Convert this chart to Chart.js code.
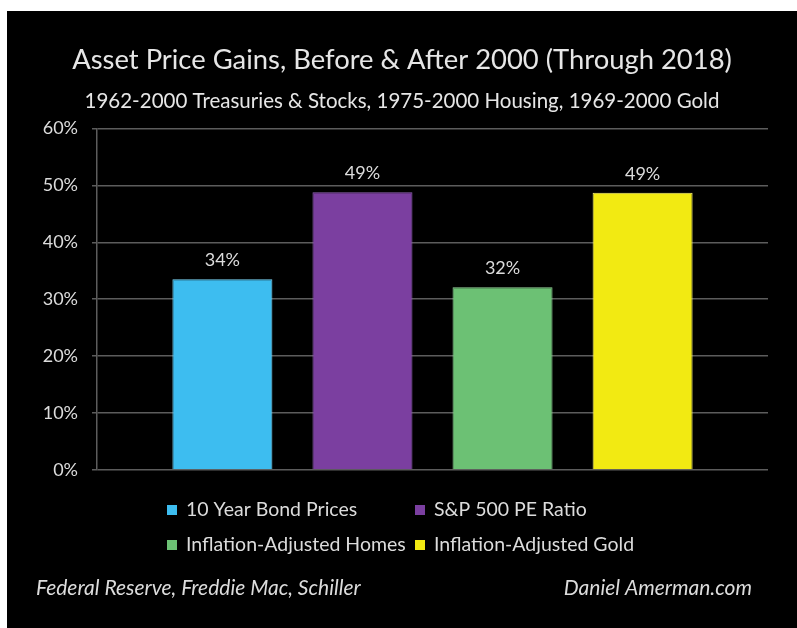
<!DOCTYPE html>
<html>
<head>
<meta charset="utf-8">
<script src="https://cdn.jsdelivr.net/npm/chart.js@4.4.1/dist/chart.umd.min.js"></script>
<style>
  html, body { margin: 0; padding: 0; background: #fff; }
  #panel { position: absolute; left: 7px; top: 11px; width: 790px; height: 617px; background: #000; }
</style>
</head>
<body>
<div id="panel"><canvas id="gains-chart" width="790" height="617"></canvas></div>
<script>
const categories = [
  "10 Year Bond Prices",
  "S&P 500 PE Ratio",
  "Inflation-Adjusted Homes",
  "Inflation-Adjusted Gold",
];
const gains = [33.5, 48.8, 32.1, 48.7];
const barColors = ["#3dbdf0", "#7b3fa0", "#6cc174", "#f2ea12"];
const barEdges = ["#7dd6f7", "#9262b5", "#95d59b", "#f7f07a"];
const sources = "Federal Reserve, Freddie Mac, Schiller";
const credit = "Daniel Amerman.com";

const textColor = "#dcdcdc";
const gridColor = "#5c5c5c";

// value labels above each bar
const valueLabels = {
  id: "valueLabels",
  afterDatasetsDraw(chart) {
    const ctx = chart.ctx;
    ctx.save();
    ctx.font = "18px Lato";
    ctx.fillStyle = textColor;
    ctx.textAlign = "center";
    ctx.textBaseline = "middle";
    chart.data.datasets.forEach((ds, i) => {
      const bar = chart.getDatasetMeta(i).data[0];
      ctx.fillText(Math.round(ds.data[0]) + "%", bar.x, bar.y - 19);
    });
    ctx.restore();
  },
};

// legend in two aligned columns + footer text
const legendGrid = {
  id: "legendGrid",
  afterDraw(chart) {
    const ctx = chart.ctx;
    const cols = [160, 408];
    const rows = [499, 534];
    ctx.save();
    ctx.font = "19.5px Lato";
    ctx.textBaseline = "middle";
    chart.data.datasets.forEach((ds, i) => {
      const x = cols[i % 2];
      const y = rows[Math.floor(i / 2)];
      ctx.fillStyle = ds.backgroundColor;
      ctx.fillRect(x, y - 5, 10, 10);
      ctx.fillStyle = textColor;
      ctx.fillText(ds.label, x + 19, y);
    });
    ctx.font = "italic 21px Lato";
    ctx.textAlign = "left";
    ctx.fillText(sources, 29, 577);
    ctx.textAlign = "right";
    ctx.fillText(credit, 745, 577);
    ctx.restore();
  },
};

const ctx = document.getElementById("gains-chart").getContext("2d");

new Chart(ctx, {
  type: "bar",
  data: {
    labels: [""],
    datasets: categories.map((name, i) => ({
      label: name,
      data: [gains[i]],
      backgroundColor: barColors[i],
      borderColor: barEdges[i],
      borderWidth: 1,
      categoryPercentage: 0.835,
      barPercentage: 0.714,
    })),
  },
  options: {
    responsive: false,
    animation: false,
    devicePixelRatio: 1,
    layout: { padding: { left: 29, right: 29, top: 0, bottom: 158 } },
    plugins: {
      legend: { display: false },
      tooltip: { enabled: false },
      title: {
        display: true,
        text: "Asset Price Gains, Before & After 2000 (Through 2018)",
        color: "#e6e6e6",
        font: { family: "Lato", size: 27.4, weight: "normal", lineHeight: 1.2 },
        padding: { top: 33, bottom: 0 },
      },
      subtitle: {
        display: true,
        text: "1962-2000 Treasuries & Stocks, 1975-2000 Housing, 1969-2000 Gold",
        color: "#e6e6e6",
        font: { family: "Lato", size: 20.5, weight: "normal", lineHeight: 1.2 },
        padding: { top: 12, bottom: 15 },
      },
    },
    scales: {
      x: { display: false },
      y: {
        min: 0,
        max: 60,
        afterFit: (scale) => { scale.width = 61; },
        ticks: {
          stepSize: 10,
          color: textColor,
          padding: 14,
          font: { family: "Lato", size: 18 },
          callback: (value) => value + "%",
        },
        grid: { color: gridColor, lineWidth: 1.5, tickLength: 5 },
        border: { color: gridColor, width: 1.5 },
      },
    },
  },
  plugins: [valueLabels, legendGrid],
});
</script>
</body>
</html>
